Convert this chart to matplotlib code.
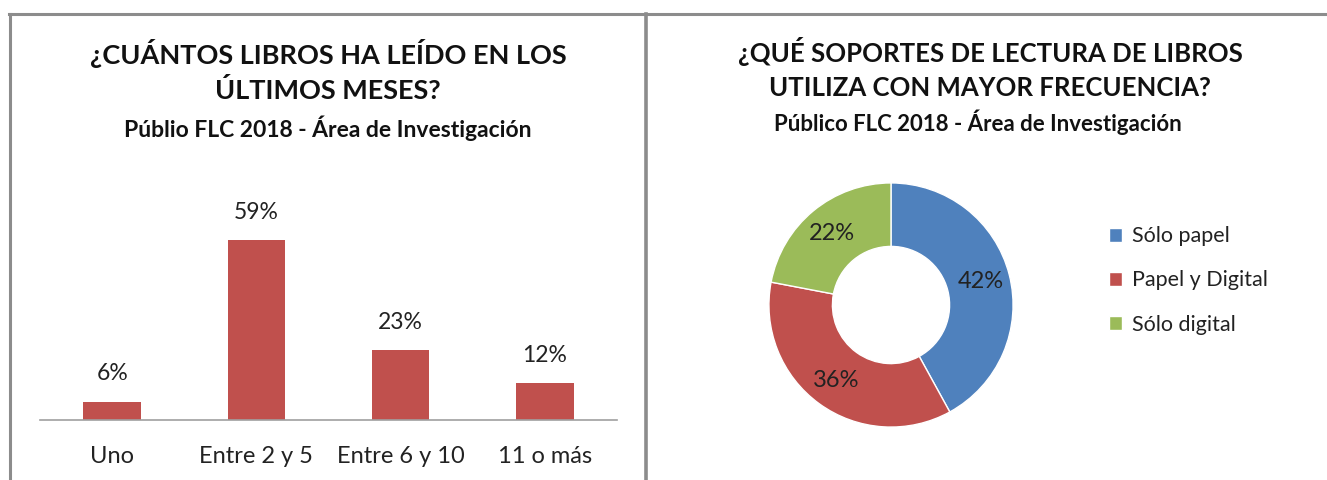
import matplotlib
matplotlib.use("Agg")
import matplotlib.pyplot as plt
from matplotlib.lines import Line2D

# ---- data ----
bar_categories = ["Uno", "Entre 2 y 5", "Entre 6 y 10", "11 o más"]
bar_values = [6, 59, 23, 12]

pie_labels = ["Sólo papel", "Papel y Digital", "Sólo digital"]
pie_values = [42, 36, 22]

left_title = "¿CUÁNTOS LIBROS HA LEÍDO EN LOS\nÚLTIMOS MESES?"
left_sub = "Públio FLC 2018 - Área de Investigación"
right_title = "¿QUÉ SOPORTES DE LECTURA DE LIBROS\nUTILIZA CON MAYOR FRECUENCIA?"
right_sub = "Público FLC 2018 - Área de Investigación"

bar_color = "#C0504D"
pie_colors = ["#4F81BD", "#C0504D", "#9BBB59"]

plt.rcParams['font.family'] = ['Lato', 'DejaVu Sans']

W, H = 1327, 480
fig = plt.figure(figsize=(W / 100, H / 100), dpi=100)
fig.patch.set_facecolor("white")

def fx(px):
    return px / W

def fy(py):
    return 1 - py / H

txt_col = "#222222"

# borders
border_col = "#8C8C8C"
fig.add_artist(Line2D([fx(9), 1], [fy(14), fy(14)], color=border_col, lw=2.2, transform=fig.transFigure))
fig.add_artist(Line2D([fx(10), fx(10)], [fy(14), 0], color=border_col, lw=2.2, transform=fig.transFigure))
fig.add_artist(Line2D([fx(646), fx(646)], [fy(14), 0], color=border_col, lw=2.6, transform=fig.transFigure))

# ---- bar chart ----
ax = fig.add_axes([fx(40), fy(420), fx(577), 198 / H])
xs = list(range(len(bar_categories)))
ax.bar(xs, bar_values, width=0.4, color=bar_color)
ax.set_xlim(-0.5, 3.5)
ax.set_ylim(0, 65)
for x, v in zip(xs, bar_values):
    ax.annotate(f"{v}%", (x, v), xytext=(0, 20), textcoords="offset points",
                ha="center", va="center", fontsize=16.5, color=txt_col)
ax.set_yticks([])
ax.set_xticks(xs)
ax.set_xticklabels(bar_categories, fontsize=17, color=txt_col)
ax.tick_params(axis="x", length=0, pad=19)
for s in ["top", "right", "left"]:
    ax.spines[s].set_visible(False)
ax.spines["bottom"].set_color("#A0A0A0")
ax.spines["bottom"].set_linewidth(1.2)

fig.text(fx(328), fy(71), left_title, ha="center", va="center", fontsize=19.5,
         fontweight="bold", color="#111111", linespacing=1.5)
fig.text(fx(328), fy(128), left_sub, ha="center", va="center", fontsize=16.5,
         fontweight="bold", color="#111111")

# ---- donut ----
R = 130
axp = fig.add_axes([fx(891 - R), fy(305 + R), fx(2 * R), 2 * R / H])
wedges, texts, autotexts = axp.pie(
    pie_values, colors=pie_colors, startangle=90, counterclock=False,
    radius=1.0, wedgeprops=dict(width=0.52, edgecolor="white", linewidth=1),
    autopct=lambda p: f"{p:.0f}%", pctdistance=0.76,
    textprops=dict(fontsize=17, color=txt_col))
axp.set_xlim(-1.065, 1.065)
axp.set_ylim(-1.065, 1.065)
axp.set_aspect("equal")
axp.axis("off")

fig.text(fx(990), fy(69), right_title, ha="center", va="center", fontsize=18.5,
         fontweight="bold", color="#111111", linespacing=1.5)
fig.text(fx(978), fy(122), right_sub, ha="center", va="center", fontsize=16,
         fontweight="bold", color="#111111")

leg = fig.legend(wedges, pie_labels, loc="upper left",
                 bbox_to_anchor=(fx(1090), fy(207)), frameon=False,
                 fontsize=15.5, handlelength=0.6, handleheight=0.6,
                 handletextpad=0.45, labelspacing=1.12)
for t in leg.get_texts():
    t.set_color(txt_col)

fig.savefig("out.png", dpi=100, facecolor="white")
